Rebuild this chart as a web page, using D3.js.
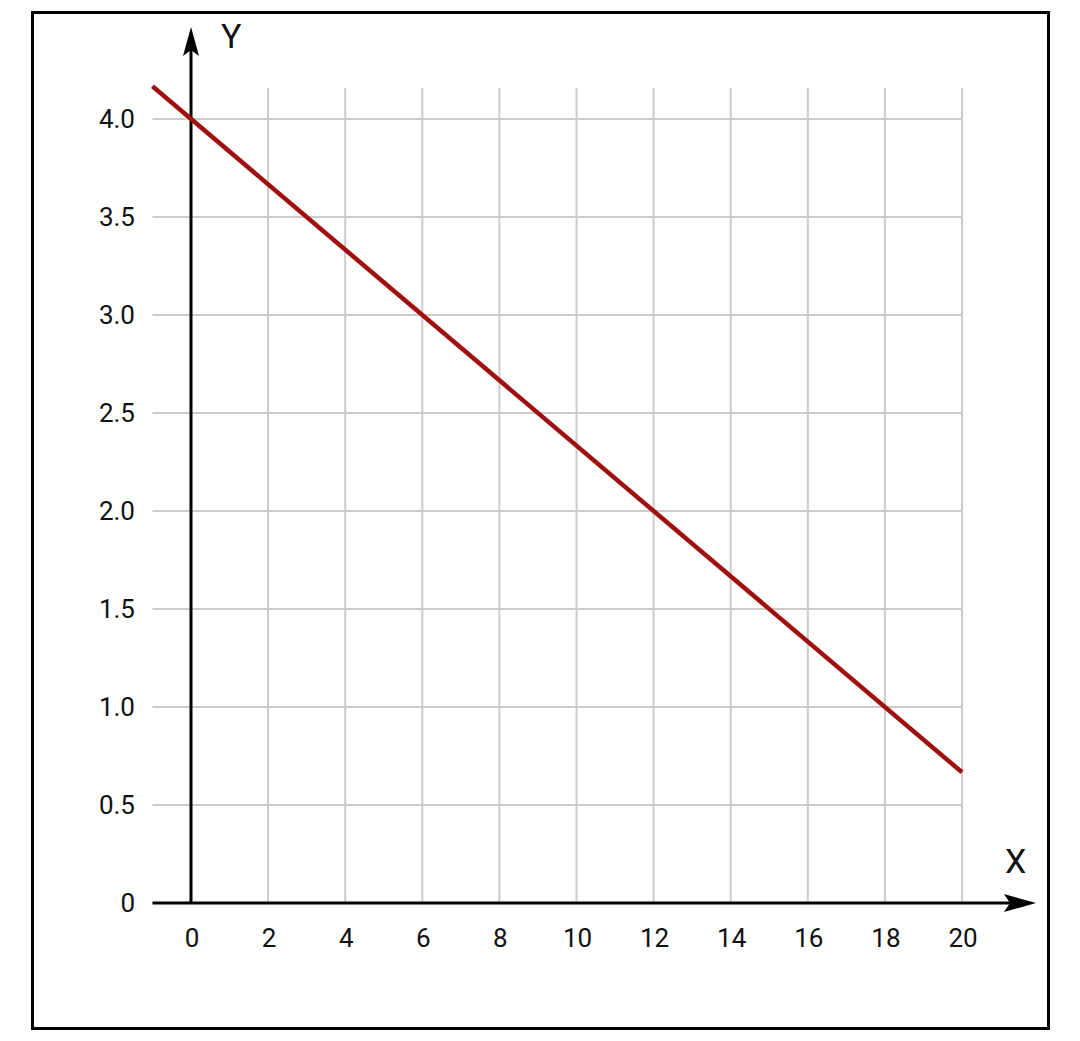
<!DOCTYPE html>
<html><head><meta charset="utf-8">
<script src="https://cdn.jsdelivr.net/npm/d3@7"></script>
<style>body{margin:0;background:#fff}svg{display:block}</style>
</head><body>
<svg id="c" width="1080" height="1041"></svg>
<script>
const xTicks = [0, 2, 4, 6, 8, 10, 12, 14, 16, 18, 20];
const yTicks = [0, 0.5, 1.0, 1.5, 2.0, 2.5, 3.0, 3.5, 4.0];
const yTickLabels = ["0", "0.5", "1.0", "1.5", "2.0", "2.5", "3.0", "3.5", "4.0"];
const lineX = [-1, 20];
const lineY = [4.1667, 0.6667];

const svg = d3.select("#c");
const x = d3.scaleLinear().domain([0, 20]).range([191, 962]);
const y = d3.scaleLinear().domain([0, 4]).range([903, 119]);
const font = "Roboto, 'Noto Sans', sans-serif";

svg.append("rect").attr("x", 32.5).attr("y", 12.5).attr("width", 1016).attr("height", 1016)
  .attr("fill", "#fff").attr("stroke", "#000").attr("stroke-width", 3);

// vertical grid
svg.append("g").selectAll("line").data(xTicks.filter(d => d !== 0)).join("line")
  .attr("x1", d => x(d)).attr("x2", d => x(d)).attr("y1", 88).attr("y2", y(0))
  .attr("stroke", "#cccccc").attr("stroke-width", 2);
// horizontal grid
svg.append("g").selectAll("line").data(yTicks.filter(d => d !== 0)).join("line")
  .attr("x1", x(-1)).attr("x2", x(20)).attr("y1", d => y(d)).attr("y2", d => y(d))
  .attr("stroke", "#cccccc").attr("stroke-width", 2);

// axes
svg.append("line").attr("x1", x(-1)).attr("x2", 1010).attr("y1", y(0)).attr("y2", y(0))
  .attr("stroke", "#000").attr("stroke-width", 3);
svg.append("line").attr("x1", x(0)).attr("x2", x(0)).attr("y1", y(0)).attr("y2", 50)
  .attr("stroke", "#000").attr("stroke-width", 3);
// arrowheads
svg.append("path").attr("d", `M${x(0)},27 L${x(0)-8},56 L${x(0)},50 L${x(0)+8},56 Z`).attr("fill", "#000");
svg.append("path").attr("d", `M1036,${y(0)} L1004,${y(0)-9} L1010,${y(0)} L1004,${y(0)+9} Z`).attr("fill", "#000");

// tick labels
svg.append("g").selectAll("text").data(xTicks).join("text")
  .attr("x", d => x(d) + 1).attr("y", 947).attr("text-anchor", "middle")
  .attr("font-family", font).attr("font-size", 26).attr("fill", "#111").text(d => d);
svg.append("g").selectAll("text").data(yTicks).join("text")
  .attr("x", 135).attr("y", d => y(d) + 9).attr("text-anchor", "end")
  .attr("font-family", font).attr("font-size", 26).attr("fill", "#111")
  .text((d, i) => yTickLabels[i]);

// axis labels
svg.append("text").attr("x", 221).attr("y", 48).attr("font-family", font).attr("font-size", 34)
  .attr("fill", "#111").text("Y");
svg.append("text").attr("x", 1005).attr("y", 873).attr("font-family", font).attr("font-size", 34)
  .attr("fill", "#111").text("X");

// data line
svg.append("path").datum(lineX.map((d, i) => [d, lineY[i]]))
  .attr("d", d3.line().x(d => x(d[0])).y(d => y(d[1])))
  .attr("fill", "none").attr("stroke", "#a01010").attr("stroke-width", 4.5);
</script>
</body></html>
